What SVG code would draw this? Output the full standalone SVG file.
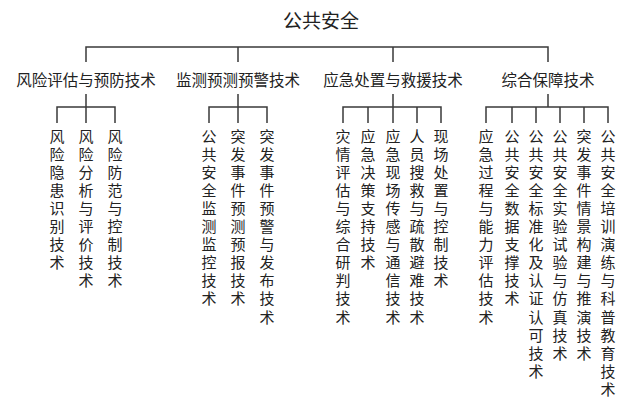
<svg xmlns="http://www.w3.org/2000/svg" width="640" height="406" viewBox="0 0 640 406">
<style>
.t{font-family:"Noto Sans CJK SC","Noto Sans",sans-serif;fill:#222}
.title{font-size:19px;text-anchor:middle}
.cat{font-size:15.5px;text-anchor:middle}
.leaf{font-size:15px;text-anchor:middle}
.ln{stroke:#3a3a3a;stroke-width:1.5;fill:none}
</style>
<rect width="640" height="406" fill="#fff"/>
<g id="connectors">
<path class="ln" d="M86,62V47H548V62M238,47V62M393,47V62"/>
<path class="ln" d="M86,94V107M57,123V107H115V123M86,107V123"/>
<path class="ln" d="M238,94V107M209,123V107H267V123M238,107V123"/>
<path class="ln" d="M393,94V107M343,123V107H441V123M368,107V123M393,107V123M417,107V123"/>
<path class="ln" d="M548,94V107M486,123V107H608V123M512,107V123M536,107V123M560,107V123M584,107V123"/>
</g>
<g id="root"><text class="t title" x="321" y="27.5">公共安全</text></g>
<g id="cat1"><text class="t cat" x="86" y="86">风险评估与预防技术</text></g>
<g id="cat2"><text class="t cat" x="238" y="86">监测预测预警技术</text></g>
<g id="cat3"><text class="t cat" x="393" y="86">应急处置与救援技术</text></g>
<g id="cat4"><text class="t cat" x="548" y="86">综合保障技术</text></g>
<g id="leaf1-1"><text class="t leaf" x="57" y="141.5"><tspan x="57">风</tspan><tspan x="57" dy="18.1">险</tspan><tspan x="57" dy="18.1">隐</tspan><tspan x="57" dy="18.1">患</tspan><tspan x="57" dy="18.1">识</tspan><tspan x="57" dy="18.1">别</tspan><tspan x="57" dy="18.1">技</tspan><tspan x="57" dy="18.1">术</tspan></text></g>
<g id="leaf1-2"><text class="t leaf" x="86" y="141.5"><tspan x="86">风</tspan><tspan x="86" dy="18.1">险</tspan><tspan x="86" dy="18.1">分</tspan><tspan x="86" dy="18.1">析</tspan><tspan x="86" dy="18.1">与</tspan><tspan x="86" dy="18.1">评</tspan><tspan x="86" dy="18.1">价</tspan><tspan x="86" dy="18.1">技</tspan><tspan x="86" dy="18.1">术</tspan></text></g>
<g id="leaf1-3"><text class="t leaf" x="115" y="141.5"><tspan x="115">风</tspan><tspan x="115" dy="18.1">险</tspan><tspan x="115" dy="18.1">防</tspan><tspan x="115" dy="18.1">范</tspan><tspan x="115" dy="18.1">与</tspan><tspan x="115" dy="18.1">控</tspan><tspan x="115" dy="18.1">制</tspan><tspan x="115" dy="18.1">技</tspan><tspan x="115" dy="18.1">术</tspan></text></g>
<g id="leaf2-1"><text class="t leaf" x="209" y="141.5"><tspan x="209">公</tspan><tspan x="209" dy="18.1">共</tspan><tspan x="209" dy="18.1">安</tspan><tspan x="209" dy="18.1">全</tspan><tspan x="209" dy="18.1">监</tspan><tspan x="209" dy="18.1">测</tspan><tspan x="209" dy="18.1">监</tspan><tspan x="209" dy="18.1">控</tspan><tspan x="209" dy="18.1">技</tspan><tspan x="209" dy="18.1">术</tspan></text></g>
<g id="leaf2-2"><text class="t leaf" x="238" y="141.5"><tspan x="238">突</tspan><tspan x="238" dy="18.1">发</tspan><tspan x="238" dy="18.1">事</tspan><tspan x="238" dy="18.1">件</tspan><tspan x="238" dy="18.1">预</tspan><tspan x="238" dy="18.1">测</tspan><tspan x="238" dy="18.1">预</tspan><tspan x="238" dy="18.1">报</tspan><tspan x="238" dy="18.1">技</tspan><tspan x="238" dy="18.1">术</tspan></text></g>
<g id="leaf2-3"><text class="t leaf" x="267" y="141.5"><tspan x="267">突</tspan><tspan x="267" dy="18.1">发</tspan><tspan x="267" dy="18.1">事</tspan><tspan x="267" dy="18.1">件</tspan><tspan x="267" dy="18.1">预</tspan><tspan x="267" dy="18.1">警</tspan><tspan x="267" dy="18.1">与</tspan><tspan x="267" dy="18.1">发</tspan><tspan x="267" dy="18.1">布</tspan><tspan x="267" dy="18.1">技</tspan><tspan x="267" dy="18.1">术</tspan></text></g>
<g id="leaf3-1"><text class="t leaf" x="343" y="141.5"><tspan x="343">灾</tspan><tspan x="343" dy="18.1">情</tspan><tspan x="343" dy="18.1">评</tspan><tspan x="343" dy="18.1">估</tspan><tspan x="343" dy="18.1">与</tspan><tspan x="343" dy="18.1">综</tspan><tspan x="343" dy="18.1">合</tspan><tspan x="343" dy="18.1">研</tspan><tspan x="343" dy="18.1">判</tspan><tspan x="343" dy="18.1">技</tspan><tspan x="343" dy="18.1">术</tspan></text></g>
<g id="leaf3-2"><text class="t leaf" x="368" y="141.5"><tspan x="368">应</tspan><tspan x="368" dy="18.1">急</tspan><tspan x="368" dy="18.1">决</tspan><tspan x="368" dy="18.1">策</tspan><tspan x="368" dy="18.1">支</tspan><tspan x="368" dy="18.1">持</tspan><tspan x="368" dy="18.1">技</tspan><tspan x="368" dy="18.1">术</tspan></text></g>
<g id="leaf3-3"><text class="t leaf" x="393" y="141.5"><tspan x="393">应</tspan><tspan x="393" dy="18.1">急</tspan><tspan x="393" dy="18.1">现</tspan><tspan x="393" dy="18.1">场</tspan><tspan x="393" dy="18.1">传</tspan><tspan x="393" dy="18.1">感</tspan><tspan x="393" dy="18.1">与</tspan><tspan x="393" dy="18.1">通</tspan><tspan x="393" dy="18.1">信</tspan><tspan x="393" dy="18.1">技</tspan><tspan x="393" dy="18.1">术</tspan></text></g>
<g id="leaf3-4"><text class="t leaf" x="417" y="141.5"><tspan x="417">人</tspan><tspan x="417" dy="18.1">员</tspan><tspan x="417" dy="18.1">搜</tspan><tspan x="417" dy="18.1">救</tspan><tspan x="417" dy="18.1">与</tspan><tspan x="417" dy="18.1">疏</tspan><tspan x="417" dy="18.1">散</tspan><tspan x="417" dy="18.1">避</tspan><tspan x="417" dy="18.1">难</tspan><tspan x="417" dy="18.1">技</tspan><tspan x="417" dy="18.1">术</tspan></text></g>
<g id="leaf3-5"><text class="t leaf" x="441" y="141.5"><tspan x="441">现</tspan><tspan x="441" dy="18.1">场</tspan><tspan x="441" dy="18.1">处</tspan><tspan x="441" dy="18.1">置</tspan><tspan x="441" dy="18.1">与</tspan><tspan x="441" dy="18.1">控</tspan><tspan x="441" dy="18.1">制</tspan><tspan x="441" dy="18.1">技</tspan><tspan x="441" dy="18.1">术</tspan></text></g>
<g id="leaf4-1"><text class="t leaf" x="486" y="141.5"><tspan x="486">应</tspan><tspan x="486" dy="18.1">急</tspan><tspan x="486" dy="18.1">过</tspan><tspan x="486" dy="18.1">程</tspan><tspan x="486" dy="18.1">与</tspan><tspan x="486" dy="18.1">能</tspan><tspan x="486" dy="18.1">力</tspan><tspan x="486" dy="18.1">评</tspan><tspan x="486" dy="18.1">估</tspan><tspan x="486" dy="18.1">技</tspan><tspan x="486" dy="18.1">术</tspan></text></g>
<g id="leaf4-2"><text class="t leaf" x="512" y="141.5"><tspan x="512">公</tspan><tspan x="512" dy="18.1">共</tspan><tspan x="512" dy="18.1">安</tspan><tspan x="512" dy="18.1">全</tspan><tspan x="512" dy="18.1">数</tspan><tspan x="512" dy="18.1">据</tspan><tspan x="512" dy="18.1">支</tspan><tspan x="512" dy="18.1">撑</tspan><tspan x="512" dy="18.1">技</tspan><tspan x="512" dy="18.1">术</tspan></text></g>
<g id="leaf4-3"><text class="t leaf" x="536" y="141.5"><tspan x="536">公</tspan><tspan x="536" dy="18.1">共</tspan><tspan x="536" dy="18.1">安</tspan><tspan x="536" dy="18.1">全</tspan><tspan x="536" dy="18.1">标</tspan><tspan x="536" dy="18.1">准</tspan><tspan x="536" dy="18.1">化</tspan><tspan x="536" dy="18.1">及</tspan><tspan x="536" dy="18.1">认</tspan><tspan x="536" dy="18.1">证</tspan><tspan x="536" dy="18.1">认</tspan><tspan x="536" dy="18.1">可</tspan><tspan x="536" dy="18.1">技</tspan><tspan x="536" dy="18.1">术</tspan></text></g>
<g id="leaf4-4"><text class="t leaf" x="560" y="141.5"><tspan x="560">公</tspan><tspan x="560" dy="18.1">共</tspan><tspan x="560" dy="18.1">安</tspan><tspan x="560" dy="18.1">全</tspan><tspan x="560" dy="18.1">实</tspan><tspan x="560" dy="18.1">验</tspan><tspan x="560" dy="18.1">试</tspan><tspan x="560" dy="18.1">验</tspan><tspan x="560" dy="18.1">与</tspan><tspan x="560" dy="18.1">仿</tspan><tspan x="560" dy="18.1">真</tspan><tspan x="560" dy="18.1">技</tspan><tspan x="560" dy="18.1">术</tspan></text></g>
<g id="leaf4-5"><text class="t leaf" x="584" y="141.5"><tspan x="584">突</tspan><tspan x="584" dy="18.1">发</tspan><tspan x="584" dy="18.1">事</tspan><tspan x="584" dy="18.1">件</tspan><tspan x="584" dy="18.1">情</tspan><tspan x="584" dy="18.1">景</tspan><tspan x="584" dy="18.1">构</tspan><tspan x="584" dy="18.1">建</tspan><tspan x="584" dy="18.1">与</tspan><tspan x="584" dy="18.1">推</tspan><tspan x="584" dy="18.1">演</tspan><tspan x="584" dy="18.1">技</tspan><tspan x="584" dy="18.1">术</tspan></text></g>
<g id="leaf4-6"><text class="t leaf" x="608" y="141.5"><tspan x="608">公</tspan><tspan x="608" dy="18.1">共</tspan><tspan x="608" dy="18.1">安</tspan><tspan x="608" dy="18.1">全</tspan><tspan x="608" dy="18.1">培</tspan><tspan x="608" dy="18.1">训</tspan><tspan x="608" dy="18.1">演</tspan><tspan x="608" dy="18.1">练</tspan><tspan x="608" dy="18.1">与</tspan><tspan x="608" dy="18.1">科</tspan><tspan x="608" dy="18.1">普</tspan><tspan x="608" dy="18.1">教</tspan><tspan x="608" dy="18.1">育</tspan><tspan x="608" dy="18.1">技</tspan><tspan x="608" dy="18.1">术</tspan></text></g>
</svg>
